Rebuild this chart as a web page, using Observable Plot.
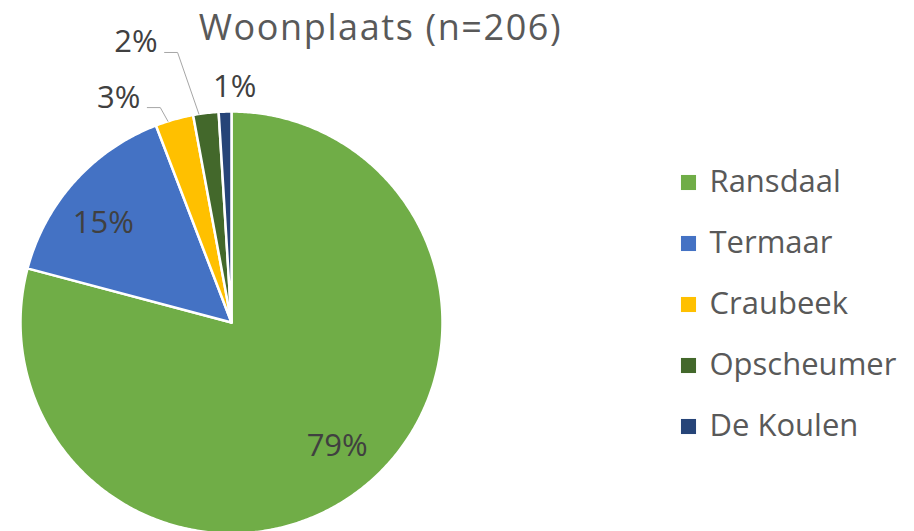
<!DOCTYPE html>
<html>
<head>
<meta charset="utf-8">
<script src="https://cdn.jsdelivr.net/npm/d3@7"></script>
<script src="https://cdn.jsdelivr.net/npm/@observablehq/plot@0.6"></script>
<style>
  html, body { margin: 0; padding: 0; background: #fff; }
  #chart { width: 914px; height: 531px; overflow: hidden; }
</style>
</head>
<body>
<div id="chart"></div>
<script>
// ---- data ----
const title = "Woonplaats (n=206)";
const categories = ["Ransdaal", "Termaar", "Craubeek", "Opscheumer", "De Koulen"];
const counts = [163, 31, 6, 4, 2];
const pctLabels = ["79%", "15%", "3%", "2%", "1%"];
const colors = ["#70AD47", "#4472C4", "#FFC000", "#43682B", "#264478"];

// ---- layout (pixels) ----
const W = 914, H = 531;
const cx = 231, cy = 322, R = 211;
const FONT = "'Open Sans', Lato, sans-serif";
// label placement per slice: radius factor & angle offset (deg); leader for small slices
const labelLayout = [
  {r: 0.77, da: -3},
  {r: 0.77, da: -4},
  {r: 1.073, da: -2.6, leader: true, edgeDa: -1.8},
  {r: 1.305, da: -4.3, leader: true, edgeDa: -1.9},
  {r: 1.114, da: 2.5}
];

const rad = d => d * Math.PI / 180;
const pt = (r, a) => ({x: cx + r * R * Math.sin(a), y: cy - r * R * Math.cos(a)});

const arcs = d3.pie().sort(null)(counts);

// slice polygons
const slicePts = [];
arcs.forEach((a, i) => {
  slicePts.push({cat: categories[i], x: cx, y: cy});
  const n = Math.max(4, Math.ceil((a.endAngle - a.startAngle) / rad(0.5)));
  for (let k = 0; k <= n; k++) {
    const t = a.startAngle + (a.endAngle - a.startAngle) * k / n;
    const p = pt(1, t);
    slicePts.push({cat: categories[i], x: p.x, y: p.y});
  }
});

// labels
const labelData = [];
const leaderPts = [];
arcs.forEach((a, i) => {
  const L = labelLayout[i];
  const mid = (a.startAngle + a.endAngle) / 2;
  const p = pt(L.r, mid + rad(L.da));
  if (L.leader) {
    const edge = pt(1.0, mid + rad(L.edgeDa));
    labelData.push({text: pctLabels[i], x: p.x - 20, y: p.y - 10, anchor: "end"});
    leaderPts.push({id: i, x: p.x - 13, y: p.y});
    leaderPts.push({id: i, x: p.x, y: p.y});
    leaderPts.push({id: i, x: edge.x, y: edge.y});
  } else {
    labelData.push({text: pctLabels[i], x: p.x, y: p.y, anchor: "middle"});
  }
});

// legend
const legendX = 688, legendTextX = 709, legendY0 = 182, legendStep = 61;
const legend = categories.map((c, i) => ({cat: c, y: legendY0 + i * legendStep}));

const chart = Plot.plot({
  width: W,
  height: H,
  margin: 0,
  x: {domain: [0, W], range: [0, W], axis: null},
  y: {domain: [0, H], range: [0, H], axis: null},
  color: {domain: categories, range: colors},
  style: {fontFamily: FONT, background: "#fff"},
  marks: [
    Plot.line(slicePts, {x: "x", y: "y", z: "cat", fill: "cat", stroke: "#fff", strokeWidth: 2.5, curve: "linear-closed"}),
    Plot.line(leaderPts, {x: "x", y: "y", z: "id", stroke: "#A6A6A6", strokeWidth: 1}),
    Plot.text(labelData.filter(d => d.anchor === "middle"), {x: "x", y: "y", text: "text", fontSize: 31, fill: "#404040", textAnchor: "middle"}),
    Plot.text(labelData.filter(d => d.anchor === "end"), {x: "x", y: "y", text: "text", fontSize: 31, fill: "#404040", textAnchor: "end"}),
    Plot.text([title], {x: () => 380, y: () => 28, text: d => d, fontSize: 36, fill: "#595959", textAnchor: "middle"}),
    Plot.dot(legend, {x: () => legendX, y: "y", fill: "cat", symbol: "square", r: 8.5, stroke: null}),
    Plot.text(legend, {x: () => legendTextX, y: "y", text: "cat", fontSize: 31, fill: "#595959", textAnchor: "start"})
  ]
});
// widen the title slightly to match the reference's letter spacing
d3.select(chart).selectAll("text").filter(function() { return this.textContent === title; })
  .style("letter-spacing", "1.6px");
document.getElementById("chart").appendChild(chart);
</script>
</body>
</html>
